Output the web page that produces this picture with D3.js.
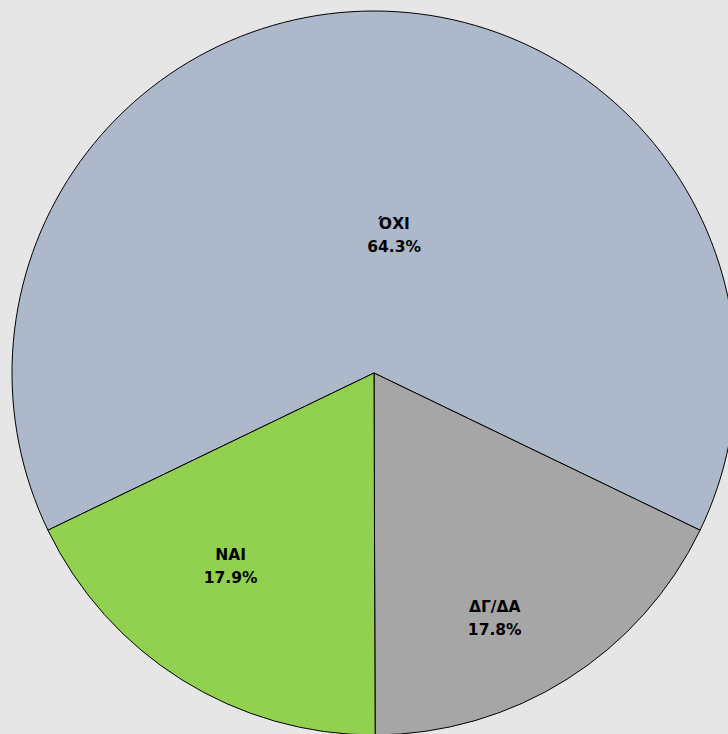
<!DOCTYPE html>
<html>
<head>
<meta charset="utf-8">
<script src="https://cdn.jsdelivr.net/npm/d3@7"></script>
<style>
html,body{margin:0;padding:0;background:#e6e6e6;overflow:hidden;}
svg{display:block;}
</style>
</head>
<body>
<svg id="chart" width="728" height="734"></svg>
<script>
const categories = ["ΌΧΙ", "ΔΓ/ΔΑ", "ΝΑΙ"];
const values = [64.3, 17.8, 17.9];
const valueLabels = ["64.3%", "17.8%", "17.9%"];
const colors = ["#adb9ca", "#a6a6a6", "#92d050"];
// label placement (fraction of radius, angular nudge in degrees)
const labelRadiusFrac = [0.385, 0.755, 0.665];
const labelAngleNudge = [8.3, 6, 4.5];

const W = 728, H = 734;
const cx = 374, cy = 373, R = 362;

const svg = d3.select("#chart");
svg.append("rect").attr("width", W).attr("height", H).attr("fill", "#e6e6e6");

const data = categories.map((c, i) => ({cat: c, value: values[i], label: valueLabels[i], color: colors[i], i}));
const total = d3.sum(values);
const start = -(values[0] / total) * Math.PI;

const pie = d3.pie().value(d => d.value).sort(null)
  .startAngle(start).endAngle(start + 2 * Math.PI);
const arcs = pie(data);
const arc = d3.arc().innerRadius(0).outerRadius(R);

const g = svg.append("g").attr("transform", `translate(${cx},${cy})`);
g.selectAll("path.slice").data(arcs).enter().append("path")
  .attr("class", "slice")
  .attr("d", arc)
  .attr("fill", d => d.data.color)
  .attr("stroke", "#000")
  .attr("stroke-width", 1)
  .attr("stroke-linejoin", "round");

const lbl = g.selectAll("g.lbl").data(arcs).enter().append("g")
  .attr("class", "lbl")
  .attr("transform", d => {
    const mid = (d.startAngle + d.endAngle) / 2 + labelAngleNudge[d.data.i] * Math.PI / 180;
    const r = R * labelRadiusFrac[d.data.i];
    return `translate(${r * Math.sin(mid)},${-r * Math.cos(mid)})`;
  });
lbl.append("text")
  .attr("text-anchor", "middle")
  .attr("y", -6)
  .attr("font-family", "'DejaVu Sans', sans-serif")
  .attr("font-weight", "bold")
  .attr("font-size", 15.5)
  .attr("fill", "#000")
  .text(d => d.data.cat);
lbl.append("text")
  .attr("text-anchor", "middle")
  .attr("y", 17)
  .attr("font-family", "'DejaVu Sans', sans-serif")
  .attr("font-weight", "bold")
  .attr("font-size", 15.5)
  .attr("fill", "#000")
  .text(d => d.data.label);
</script>
</body>
</html>
